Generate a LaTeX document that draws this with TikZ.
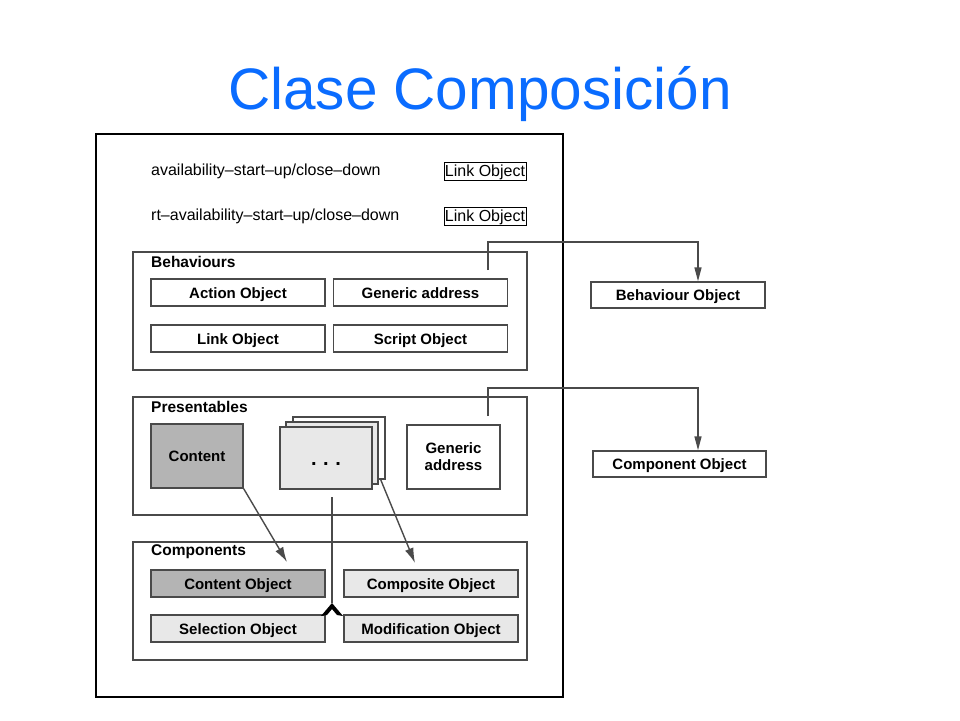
\documentclass[tikz,border=0pt]{standalone}
\usepackage{fontspec}
\setmainfont{Liberation Sans}
\usetikzlibrary{arrows.meta}
\definecolor{titleblue}{HTML}{0A6CFF}
\definecolor{boxline}{HTML}{4A4A4A}
\definecolor{darkfill}{HTML}{B4B4B4}
\definecolor{lightfill}{HTML}{E8E8E8}
\begin{document}
\begin{tikzpicture}[x=1pt,y=-1pt,%
% common options for the object boxes:
obj/.style = {draw=boxline, line width=1.4pt, minimum width=174pt,
            minimum height=27pt, inner sep=0, text height=11pt, text depth=0pt,
            font=\fontsize{15}{16}\selectfont\bfseries},
% common options for the group frames:
group/.style = {draw=boxline, line width=1.4pt, minimum width=394pt,
            minimum height=118pt, inner sep=0},
grouplabel/.style = {anchor=west, inner sep=0,
            font=\fontsize{15.5}{16}\selectfont\bfseries},
% small link boxes and the plain rows:
linkbox/.style = {draw, line width=1pt, minimum width=82pt,
            minimum height=18pt, inner sep=0, text height=11.5pt, text depth=0pt,
            font=\fontsize{16}{16}\selectfont},
rowtext/.style = {anchor=west, inner sep=0, font=\fontsize{16}{16}\selectfont},
% connectors:
wire/.style = {draw=boxline, line width=1.4pt},
tip/.style = {-{Triangle[length=14pt,width=7pt]}},
diag/.style = {-{Latex[length=15pt,width=9pt]}}]
\useasboundingbox (0,0) rectangle (960,720);
\node[text=titleblue, anchor=base, inner sep=0,
      font=\fontsize{58.5}{60}\selectfont] (title) at (480,109) {Clase Composición};
\node[draw, line width=2.5pt, minimum width=467pt, minimum height=563pt,
      inner sep=0] (outer) at (329.5,415.5) {};
% top rows
\node[rowtext] (row1) at (151,171) {availability--start--up/close--down};
\node[rowtext] (row2) at (151,216) {rt--availability--start--up/close--down};
\node[linkbox] (lnk1) at (485,171) {Link Object};
\node[linkbox] (lnk2) at (485,216) {Link Object};
% behaviours
\node[group] (beh) at (330,311) {};
\node[grouplabel] (behl) at (151,262) {Behaviours};
\node[obj] (act) at (238,292.5) {Action Object};
\node[obj] (gen) at (420.5,292.5) {Generic address};
\node[obj] (lnkb) at (238,338.5) {Link Object};
\node[obj] (scr) at (420.5,338.5) {Script Object};
% presentables
\node[group] (pre) at (330,456) {};
\node[grouplabel] (prel) at (151,407) {Presentables};
\node[obj, fill=darkfill, minimum width=92pt, minimum height=64pt] (cnt) at (197,456) {Content};
\node[obj, fill=white, minimum width=92pt, minimum height=62pt] (stk3) at (339,448) {};
\node[obj, fill=lightfill, minimum width=92pt, minimum height=62pt] (stk2) at (332,453) {};
\node[obj, fill=lightfill, minimum width=92pt, minimum height=62pt] (stk1) at (326,458) {};
\node[inner sep=0, font=\fontsize{20}{20}\selectfont\bfseries] (dots) at ([yshift=-6pt]stk1.center) {.\,\,.\,\,.};
\node[obj, fill=white, minimum width=93pt, minimum height=64pt, align=center,
      text height=, text depth=,
      font=\fontsize{15}{17}\selectfont\bfseries] (gen2) at (453.5,457) {Generic\\address};
% components
\node[group] (cmp) at (330,601) {};
\node[grouplabel] (cmpl) at (151,552) {Components};
\node[obj, fill=darkfill] (cnto) at (238,583.5) {Content Object};
\node[obj, fill=lightfill] (cpso) at (431,583.5) {Composite Object};
\node[obj, fill=lightfill] (selo) at (238,628.5) {Selection Object};
\node[obj, fill=lightfill] (modo) at (431,628.5) {Modification Object};
% outside objects
\node[obj, minimum height=26pt] (bhv) at (678,295) {Behaviour Object};
\node[obj, minimum width=173pt, minimum height=26pt] (cpo) at (679.5,464) {Component Object};
% connectors
\coordinate (b0) at (488,270);
\coordinate (b1) at (698,242);
\coordinate (p0) at (488,416);
\coordinate (p1) at (698,388);
\draw[wire, tip] (b0) |- (b1) -- (b1 |- bhv.north);
\draw[wire, tip] (p0) |- (p1) -- (p1 |- cpo.north);
\coordinate (c1) at (287,562);
\coordinate (s1) at (415,563);
\coordinate (v0) at (332,497);
\coordinate (wedge) at (332,603);
\draw[wire, diag] (cnt.south east) -- (c1);
\draw[wire, diag] ([xshift=-5pt]stk3.south east) -- (s1);
\draw[wire] (v0) -- (wedge);
\fill (wedge) -- ++(-11,13) -- ++(6,-1) -- ++(5,-6) -- ++(5,6) -- ++(6,1) -- cycle;
\end{tikzpicture}
\end{document}
